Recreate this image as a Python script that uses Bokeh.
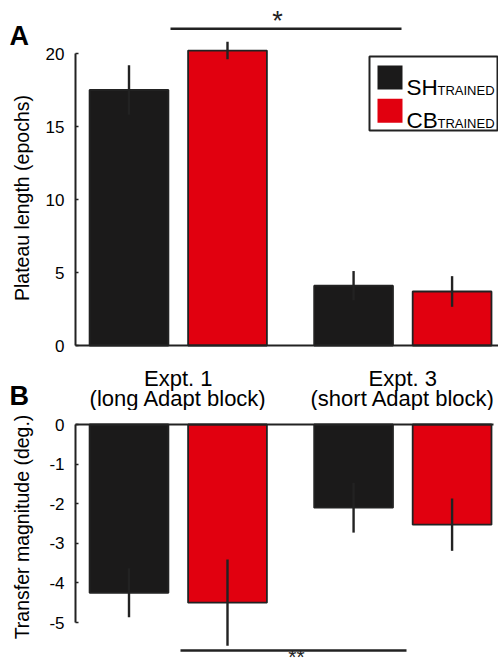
import math
from bokeh.plotting import figure
from bokeh.layouts import column
from bokeh.models import Range1d, FixedTicker, Label, BoxAnnotation, ColumnDataSource
from bokeh.embed import file_html
from bokeh.resources import INLINE

# ---------------- data ----------------
groups = ["Expt. 1", "Expt. 3"]
group_subtitles = ["(long Adapt block)", "(short Adapt block)"]
series_names = ["SH", "CB"]
series_sub = "TRAINED"

plateau_sh = [17.5, 4.1]
plateau_sh_err = [1.7, 1.0]
plateau_cb = [20.2, 3.7]
plateau_cb_err = [0.6, 1.05]

transfer_sh = [-4.25, -2.1]
transfer_sh_err = [0.62, 0.63]
transfer_cb = [-4.5, -2.53]
transfer_cb_err = [1.09, 0.66]

plateau_ticks = [0, 5, 10, 15, 20]
transfer_ticks = [0, -1, -2, -3, -4, -5]

# ---------------- style / layout ----------------
FONT = "Liberation Sans"
BLACK = "#1b1a1a"
RED = "#e1000f"
EDGE = "#222222"
W = 498
HA = 410            # height of panel A canvas
HB = 668 - HA       # height of panel B canvas
group_centers = [0.5, 2.78]
offsets = [-0.5, 0.5]
PXU = 98.5          # pixels per x unit
X_ORIGIN = 128.5    # pixel of x = 0


def xd(px):
    return (px - X_ORIGIN) / PXU


A_ZERO, A_PX = 345.0, 14.6       # panel A: pixel of y=0, pixels per unit
B_ZERO, B_PX = 424.0 - HA, 39.6  # panel B (pixels relative to its canvas)


def ya(py):
    return (A_ZERO - py) / A_PX


def yb(py):
    return (B_ZERO - (py - HA)) / B_PX


AXIS_X = xd(75)


def style_y(ax, ticks, bounds):
    ax.ticker = FixedTicker(ticks=ticks)
    ax.major_label_overrides = {t: str(t) for t in ticks}
    ax.bounds = bounds
    ax.fixed_location = AXIS_X
    ax.major_tick_in = 3
    ax.major_tick_out = 0
    ax.major_tick_line_color = EDGE
    ax.major_tick_line_width = 1.5
    ax.minor_tick_line_color = None
    ax.axis_line_color = EDGE
    ax.axis_line_width = 2
    ax.major_label_text_font = FONT
    ax.major_label_text_font_size = "17px"
    ax.major_label_text_color = "black"
    ax.major_label_standoff = 11


def style_x(ax, right_px):
    ax.ticker = FixedTicker(ticks=[])
    ax.fixed_location = 0
    ax.bounds = (AXIS_X, xd(right_px))
    ax.major_tick_line_color = None
    ax.minor_tick_line_color = None
    ax.axis_line_color = EDGE
    ax.axis_line_width = 2


def draw_bars(p, sets, upward):
    srcs = []
    for si, (vals, errs, color) in enumerate(sets):
        xs = [g + offsets[si] for g in group_centers]
        src = ColumnDataSource(dict(
            x=xs, v=vals,
            lo=[v - e for v, e in zip(vals, errs)],
            hi=[v + e for v, e in zip(vals, errs)],
        ))
        if upward:
            p.vbar(x="x", top="v", bottom=0, width=0.8, fill_color=color,
                   line_color=EDGE, line_width=1.8, source=src)
        else:
            p.vbar(x="x", top=0, bottom="v", width=0.8, fill_color=color,
                   line_color=EDGE, line_width=1.8, source=src)
        srcs.append(src)
    for src in srcs:
        p.segment(x0="x", y0="lo", x1="x", y1="hi", line_color=EDGE,
                  line_width=2.4, source=src)


def new_fig(h, yr):
    p = figure(width=W, height=h, x_range=Range1d(xd(0), xd(W)),
               y_range=Range1d(*yr), output_backend="svg",
               toolbar_location=None, min_border=0, min_border_left=0,
               min_border_right=0, min_border_top=0, min_border_bottom=0)
    p.xgrid.visible = False
    p.ygrid.visible = False
    p.outline_line_color = None
    p.background_fill_color = "white"
    p.border_fill_color = "white"
    return p


def txt(p, x, y, text, size, **kw):
    p.add_layout(Label(x=x, y=y, text=text, text_font=FONT,
                       text_font_size=size, text_color=kw.pop("color", "black"),
                       **kw))


# ---------------- panel A ----------------
pA = new_fig(HA, (ya(HA), ya(0)))
style_y(pA.yaxis[0], plateau_ticks, (0, 20))
style_x(pA.xaxis[0], W)

draw_bars(pA, [(plateau_sh, plateau_sh_err, BLACK),
               (plateau_cb, plateau_cb_err, RED)], True)

# significance bar
pA.segment(x0=[xd(170)], y0=[ya(28.3)], x1=[xd(401)], y1=[ya(28.3)],
           line_color=EDGE, line_width=2.5)
txt(pA, xd(277), ya(20), "*", "27px", text_align="center",
    text_baseline="alphabetic", color=EDGE)

# panel letters
txt(pA, xd(9), ya(35), "A", "27px", text_font_style="bold",
    text_baseline="alphabetic")
txt(pA, xd(9), ya(395), "B", "27px", text_font_style="bold",
    text_baseline="alphabetic")

# y label
txt(pA, xd(21), ya(197.5), "Plateau length (epochs)", "19.5px",
    angle=math.pi / 2, text_align="center", text_baseline="middle")

# group labels
for g, t1, t2 in zip(group_centers, groups, group_subtitles):
    txt(pA, g, ya(377.5), t1, "22px", text_align="center",
        text_baseline="alphabetic")
    txt(pA, g, ya(397.5), t2, "22px", text_align="center",
        text_baseline="alphabetic")

# legend (manual, to allow subscripts)
pA.add_layout(BoxAnnotation(left=xd(369), right=xd(497), top=ya(56),
                            bottom=ya(130), fill_color="white", fill_alpha=1,
                            line_color=EDGE, line_alpha=1, line_width=2))
for i, (name, col) in enumerate(zip(series_names, [BLACK, RED])):
    top = 65 + i * 33.3
    pA.add_layout(BoxAnnotation(left=xd(377), right=xd(402), top=ya(top),
                                bottom=ya(top + 24), fill_color=col,
                                fill_alpha=1, line_color=None))
    base = 86.7 + i * 33.3
    txt(pA, xd(406), ya(base), name, "22.5px", text_baseline="alphabetic")
    txt(pA, xd(437), ya(base + 2.8), series_sub, "13px",
        text_baseline="alphabetic")

# ---------------- panel B ----------------
pB = new_fig(HB, (yb(668), yb(HA)))
style_y(pB.yaxis[0], transfer_ticks, (-5, 0))
style_x(pB.xaxis[0], 493)

draw_bars(pB, [(transfer_sh, transfer_sh_err, BLACK),
               (transfer_cb, transfer_cb_err, RED)], False)

pB.segment(x0=[xd(180)], y0=[yb(650)], x1=[xd(406)], y1=[yb(650)],
           line_color=EDGE, line_width=2.5)
txt(pB, xd(296), yb(667.5), "**", "21px", text_align="center",
    text_baseline="bottom", color=EDGE)

txt(pB, xd(21), yb(526.5), "Transfer magnitude (deg.)", "19.5px",
    angle=math.pi / 2, text_align="center", text_baseline="middle")

layout = column(pA, pB, spacing=0)
open("out.html", "w").write(file_html(layout, INLINE))
